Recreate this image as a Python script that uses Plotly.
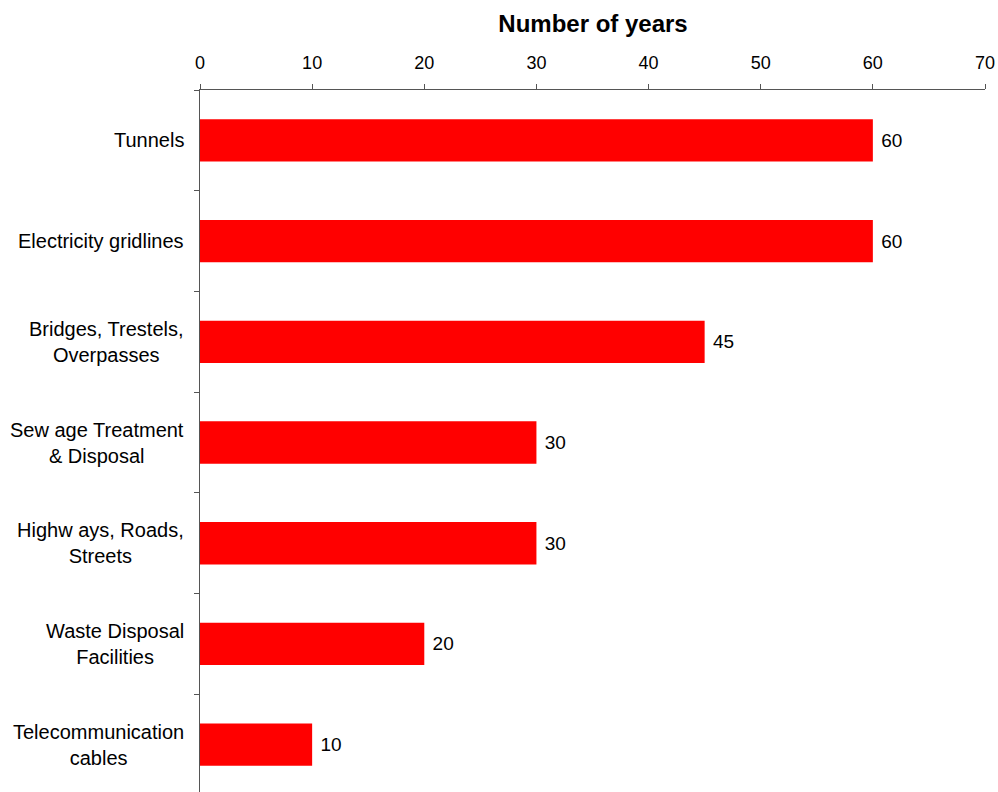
import plotly.graph_objects as go

# Infrastructure categories and expected lifetime in years
categories = [
    "Tunnels",
    "Electricity gridlines",
    "Bridges, Trestels,<br>Overpasses",
    "Sew age Treatment<br>& Disposal",
    "Highw ays, Roads,<br>Streets",
    "Waste Disposal<br>Facilities",
    "Telecommunication<br>cables",
]
years = [60, 60, 45, 30, 30, 20, 10]
x_ticks = [0, 10, 20, 30, 40, 50, 60, 70]

FONT = "Liberation Sans, Arial, sans-serif"
positions = list(range(len(categories)))

fig = go.Figure()
fig.add_trace(go.Bar(
    x=years,
    y=positions,
    orientation="h",
    width=0.42,
    marker=dict(color="#FF0000", line=dict(width=0)),
    text=[f" {v}" for v in years],
    textposition="outside",
    textfont=dict(family=FONT, size=19, color="black"),
    cliponaxis=False,
    hoverinfo="skip",
))

# Category labels, centred line by line to the left of the axis
for pos, name in zip(positions, categories):
    fig.add_annotation(
        x=0, xref="paper", y=pos, yref="y",
        text=name, showarrow=False,
        xanchor="right", yanchor="middle", align="center",
        xshift=-14,
        font=dict(family=FONT, size=20, color="black"),
    )

fig.update_layout(
    width=998, height=792,
    margin=dict(l=200, r=13, t=90, b=0),
    paper_bgcolor="white", plot_bgcolor="white",
    showlegend=False,
    bargap=0.58,
    title=dict(
        text="<b>Number of years</b>",
        x=593 / 998, xref="container", xanchor="center",
        y=1 - 24 / 792, yref="container", yanchor="middle",
        font=dict(family=FONT, size=24, color="black"),
    ),
    xaxis=dict(
        side="top",
        range=[0, 70],
        tickvals=x_ticks,
        ticktext=[str(t) for t in x_ticks],
        ticks="outside", ticklen=5, tickcolor="#555555", tickwidth=1,
        showline=True, linecolor="#555555", linewidth=1,
        showgrid=False, zeroline=False,
        tickfont=dict(family=FONT, size=18, color="black"),
        ticklabelstandoff=8,
    ),
    yaxis=dict(
        type="linear",
        range=[6.47, -0.5],
        tickvals=[p + 0.5 for p in positions[:-1]] + [-0.5],
        showticklabels=False,
        ticks="outside", ticklen=5, tickcolor="#555555", tickwidth=1,
        showline=True, linecolor="#555555", linewidth=1,
        showgrid=False, zeroline=False,
    ),
)

fig.write_html("out.html")
